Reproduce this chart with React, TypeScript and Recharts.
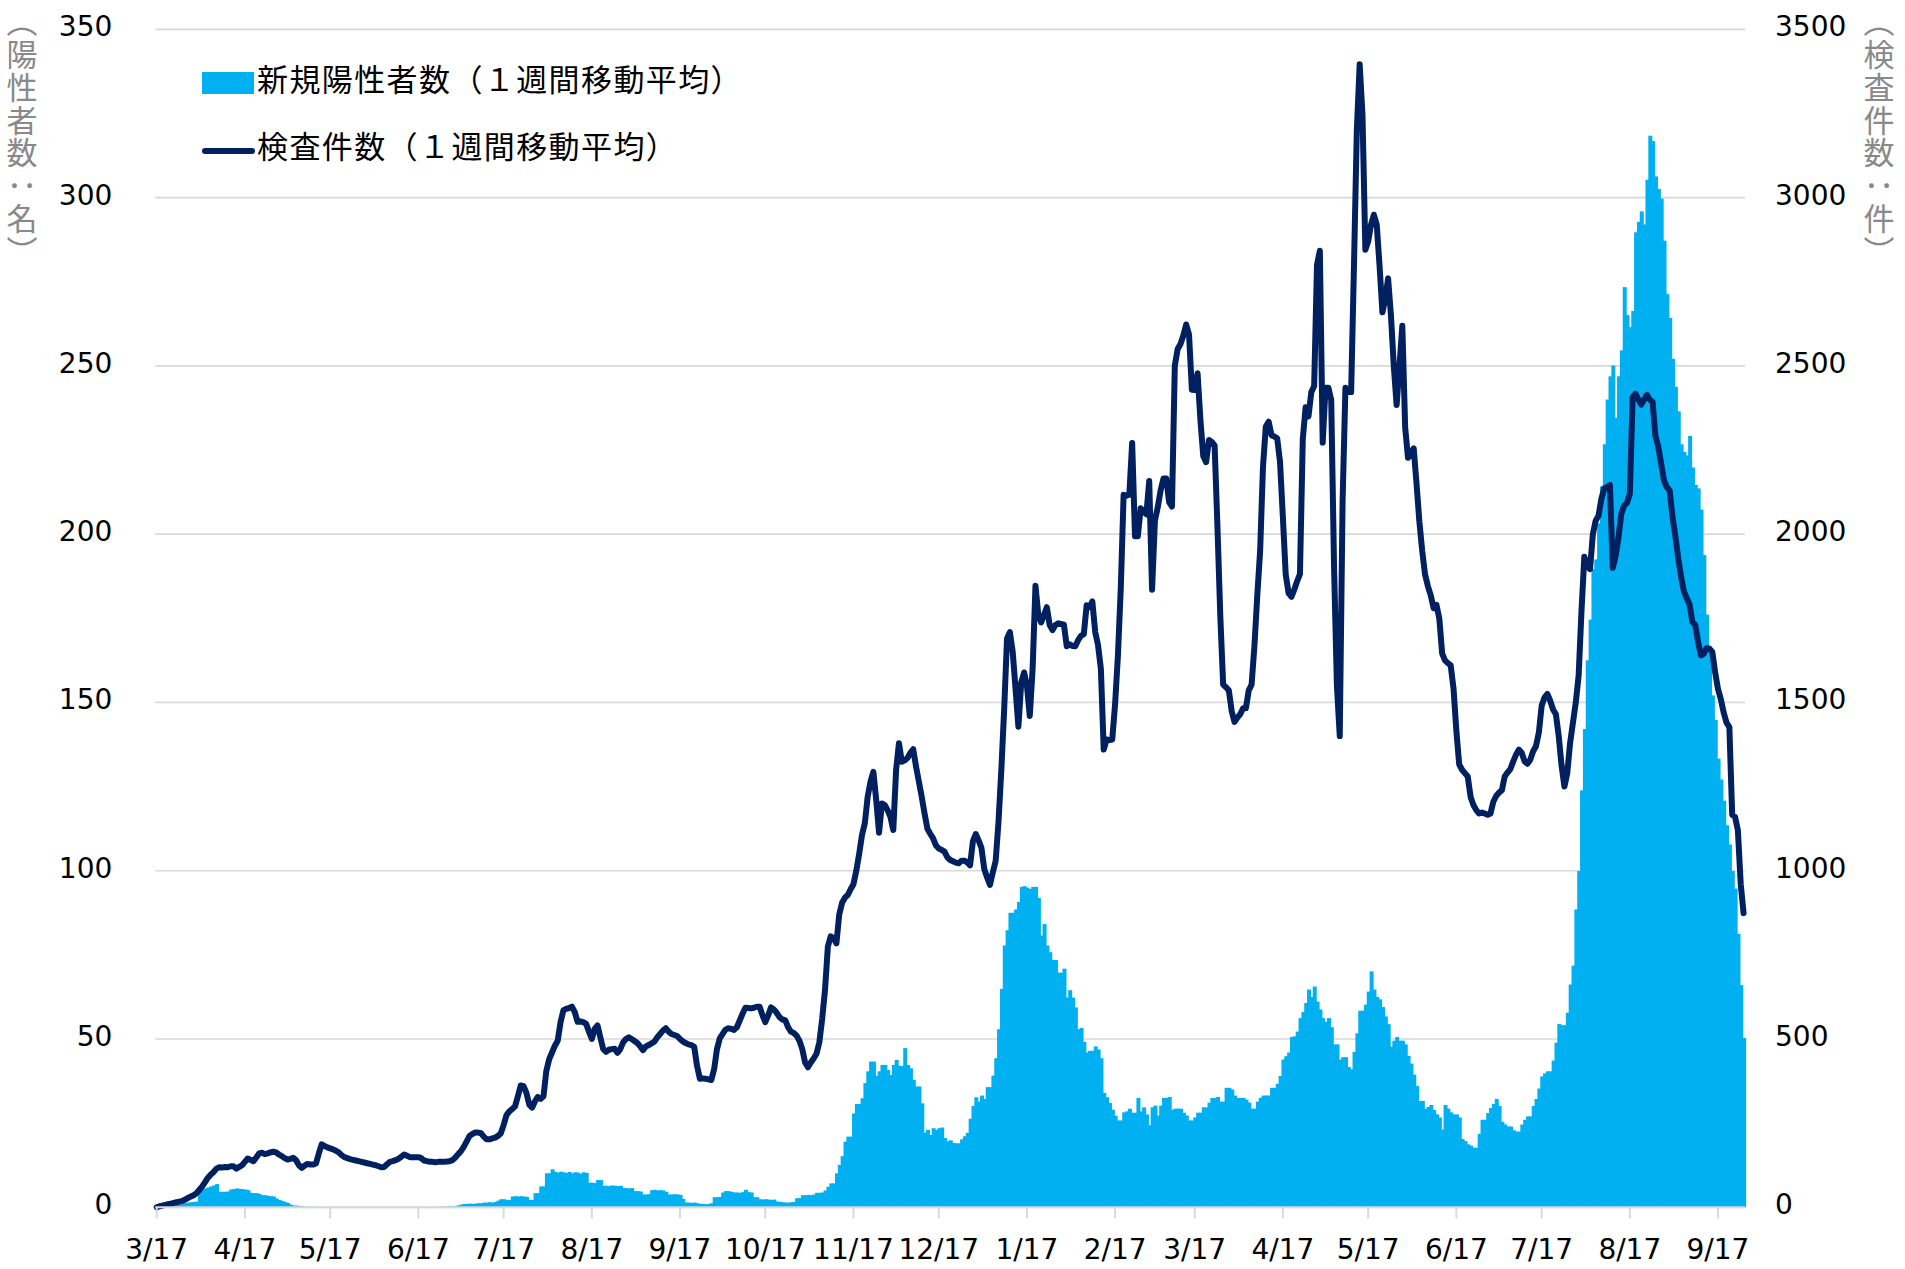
import { Bar, CartesianGrid, ComposedChart, Line, XAxis, YAxis } from "recharts";

// 1週間移動平均, one value per day from 2020-03-17 (day 0) to 2021-09-26 (day 558)
const positives = [
  0.2, 0.3, 0.3, 0.4, 0.5, 0.6, 0.7, 0.7, 0.8, 1.2,
  1.3, 1.4, 1.5, 1.6, 1.7, 4.6, 5.3, 5.6, 5.9, 6.2,
  6.5, 6.9, 4.6, 4.6, 4.6, 4.7, 5.3, 5.4, 5.6, 5.5,
  5.4, 5.3, 5.1, 4.3, 4.2, 4.2, 4.0, 3.6, 3.6, 3.4,
  3.3, 3.2, 2.6, 2.2, 1.9, 1.6, 1.3, 0.8, 0.5, 0.5,
  0.4, 0.3, 0.2, 0.1, 0.1, 0.1, 0.1, 0.1, 0, 0,
  0, 0, 0, 0, 0, 0, 0, 0, 0, 0,
  0, 0, 0, 0, 0, 0, 0, 0, 0, 0,
  0, 0, 0, 0, 0, 0, 0, 0, 0, 0,
  0, 0, 0, 0, 0, 0.1, 0.1, 0.1, 0.1, 0.1,
  0.1, 0.2, 0.2, 0.3, 0.3, 0.4, 0.6, 0.8, 1.0, 1.0,
  1.1, 1.0, 1.1, 1.2, 1.2, 1.4, 1.4, 1.5, 1.4, 1.6,
  2.0, 2.4, 2.4, 2.2, 2.2, 3.2, 3.3, 3.2, 3.3, 3.2,
  3.1, 2.2, 2.2, 4.2, 4.2, 6.2, 6.2, 10.1, 10.1, 11.3,
  10.5, 10.3, 10.6, 10.4, 10.2, 10.5, 10.1, 10.4, 10.3, 10.0,
  10.4, 10.2, 7.3, 7.3, 7.2, 8.1, 8.1, 6.4, 6.4, 6.3,
  6.5, 6.4, 6.3, 6.4, 5.7, 5.7, 5.6, 5.7, 4.8, 4.8,
  4.7, 3.8, 3.8, 3.9, 5.1, 5.2, 5.0, 5.1, 5.0, 4.6,
  3.8, 3.8, 3.9, 3.8, 3.7, 2.5, 1.4, 1.4, 1.3, 1.4,
  1.2, 1.0, 1.0, 0.9, 1.0, 1.2, 3.0, 3.0, 3.1, 4.4,
  4.8, 4.8, 4.6, 4.4, 4.4, 4.3, 4.5, 5.2, 4.5, 4.4,
  3.0, 3.0, 2.4, 2.3, 2.4, 2.3, 2.2, 2.3, 1.7, 1.6,
  1.5, 1.4, 1.4, 1.5, 1.6, 2.7, 2.7, 3.6, 3.6, 3.7,
  3.6, 3.8, 4.3, 4.3, 4.4, 5.0, 6.1, 7.1, 7.1, 10.1,
  12.6, 15.2, 19.5, 21.0, 21.0, 27.9, 30.7, 30.7, 32.4, 36.9,
  40.4, 43.3, 43.3, 39.0, 40.4, 42.3, 42.3, 40.8, 39.3, 42.3,
  43.8, 42.0, 42.0, 47.3, 42.3, 41.3, 37.9, 35.9, 35.9, 30.9,
  22.2, 23.0, 21.5, 23.5, 23.0, 23.5, 23.7, 20.6, 19.6, 19.9,
  19.1, 19.0, 19.0, 20.2, 21.1, 22.1, 26.3, 30.1, 32.7, 31.4,
  33.2, 32.2, 35.7, 35.7, 39.1, 44.3, 52.9, 64.9, 77.8, 82.3,
  87.5, 87.5, 88.5, 90.7, 95.2, 95.4, 95.0, 94.6, 95.2, 95.2,
  91.9, 80.7, 84.2, 77.8, 75.8, 73.5, 73.5, 69.7, 69.7, 70.9,
  62.3, 64.5, 62.3, 59.4, 52.9, 53.3, 49.1, 46.0, 46.5, 46.5,
  47.8, 46.9, 44.3, 34.0, 32.7, 31.0, 29.0, 27.2, 25.8, 25.8,
  28.2, 28.5, 29.3, 28.1, 28.1, 32.5, 28.5, 29.7, 27.6, 24.4,
  29.7, 30.2, 27.3, 30.2, 32.5, 32.5, 32.8, 29.0, 29.3, 29.3,
  29.3, 28.1, 27.3, 25.8, 25.8, 26.7, 28.1, 28.1, 29.7, 29.7,
  31.1, 32.5, 32.5, 32.8, 31.4, 31.4, 35.5, 35.5, 35.0, 33.2,
  32.5, 32.5, 32.5, 32.0, 31.1, 29.3, 29.3, 31.4, 32.5, 33.2,
  33.2, 33.2, 35.5, 35.5, 36.7, 39.0, 43.9, 44.9, 46.0, 50.6,
  50.8, 52.2, 56.2, 58.0, 60.7, 64.7, 62.5, 65.6, 61.1, 58.8,
  56.2, 55.1, 56.2, 53.5, 48.4, 48.4, 43.9, 44.6, 44.6, 41.7,
  41.0, 46.2, 51.7, 58.4, 58.4, 60.2, 64.1, 70.1, 64.7, 62.5,
  61.8, 59.5, 56.7, 54.4, 47.7, 49.5, 50.6, 49.5, 49.5, 48.4,
  45.0, 42.7, 39.4, 36.0, 31.6, 31.6, 29.3, 29.8, 30.4, 28.9,
  27.6, 26.7, 23.1, 30.4, 29.3, 28.2, 27.6, 27.6, 26.7, 20.3,
  19.7, 18.7, 18.3, 17.7, 17.7, 21.8, 26.0, 26.0, 28.0, 29.5,
  30.7, 32.2, 30.1, 25.4, 24.6, 24.0, 24.0, 22.9, 22.5, 22.5,
  24.6, 26.0, 27.0, 27.0, 30.1, 32.2, 35.3, 38.9, 39.8, 40.4,
  40.4, 43.6, 48.9, 54.5, 54.1, 54.1, 57.8, 66.2, 71.8, 88.5,
  99.9, 123.9, 142.1, 162.5, 174.6, 189.6, 192.5, 203.2, 214.2, 226.7,
  240.0, 246.9, 250.1, 234.5, 246.9, 254.6, 273.4, 265.1, 261.5, 266.3,
  289.7, 292.8, 295.9, 292.0, 305.3, 318.4, 316.8, 306.3, 302.6, 299.7,
  287.2, 271.3, 264.2, 252.1, 243.8, 236.5, 226.7, 224.4, 223.4, 229.2,
  219.8, 214.6, 213.6, 207.3, 193.8, 176.1, 164.6, 152.1, 144.8, 133.3,
  127.1, 120.8, 113.5, 107.8, 99.9, 94.7, 81.2, 66.0, 50.3,
];

const tests = [
  0, 3, 5, 7, 9, 11, 13, 15, 17, 19,
  23, 28, 32, 36, 42, 52, 62, 75, 88, 97,
  105, 115, 119, 118, 120, 119, 122, 122, 115, 120,
  125, 135, 145, 141, 137, 148, 160, 162, 158, 160,
  163, 165, 163, 157, 152, 146, 142, 144, 147, 140,
  125, 117, 124, 129, 127, 127, 130, 160, 187, 182,
  178, 175, 172, 168, 163, 155, 149, 146, 143, 141,
  139, 137, 135, 133, 131, 129, 127, 125, 122, 119,
  120, 128, 135, 137, 140, 144, 150, 157, 153, 149,
  149, 149, 149, 146, 139, 137, 135, 135, 134, 135,
  135, 135, 136, 137, 140, 148, 158, 167, 180, 196,
  212, 218, 222, 222, 220, 210, 202, 202, 205, 207,
  212, 220, 245, 274, 285, 292, 300, 330, 362, 360,
  340, 305, 296, 315, 328, 322, 330, 405, 440, 460,
  480, 495, 550, 585, 590, 592, 596, 580, 551, 552,
  550, 545, 522, 500, 530, 540, 505, 470, 462, 468,
  470, 471, 459, 470, 490, 500, 505, 500, 494, 488,
  478, 467, 478, 482, 487, 492, 505, 515, 525, 532,
  522, 515, 512, 509, 500, 493, 488, 484, 482, 477,
  420, 382, 383, 382, 380, 378, 410, 470, 502, 515,
  528, 532, 530, 527, 535, 555, 575, 593, 592, 591,
  593, 596, 596, 571, 550, 570, 594, 588, 578, 565,
  558, 556, 535, 522, 518, 510, 495, 470, 430, 416,
  430, 442, 456, 490, 560, 646, 775, 805, 800, 784,
  870, 905, 920, 928, 945, 960, 1000, 1050, 1106, 1141,
  1220, 1265, 1294, 1210, 1113, 1200, 1195, 1180, 1160, 1121,
  1300, 1379, 1324, 1328, 1335, 1350, 1361, 1310, 1265, 1220,
  1170, 1125, 1110, 1096, 1075, 1066, 1062, 1057, 1040, 1032,
  1028, 1024, 1022, 1030, 1030, 1025, 1016, 1087, 1109, 1090,
  1068, 1005, 980, 958, 995, 1029, 1145, 1300, 1480, 1690,
  1709, 1650, 1540, 1428, 1560, 1589, 1550, 1460, 1600, 1847,
  1760, 1738, 1760, 1783, 1730, 1715, 1730, 1735, 1733, 1731,
  1667, 1673, 1668, 1667, 1685, 1698, 1703, 1789, 1783, 1800,
  1710, 1670, 1600, 1360, 1390, 1388, 1390, 1495, 1640, 1840,
  2117, 2114, 2117, 2271, 1994, 1994, 2077, 2068, 2059, 2158,
  1835, 2040, 2080, 2130, 2165, 2165, 2095, 2082, 2500, 2550,
  2565, 2590, 2623, 2593, 2429, 2428, 2478, 2340, 2232, 2214,
  2280, 2274, 2263, 2020, 1756, 1553, 1545, 1536, 1474, 1442,
  1455, 1465, 1483, 1483, 1536, 1553, 1668, 1818, 1950, 2200,
  2320, 2334, 2294, 2290, 2285, 2214, 2050, 1880, 1825, 1814,
  1835, 1860, 1881, 2283, 2377, 2350, 2422, 2440, 2800, 2842,
  2272, 2435, 2435, 2399, 1900, 1550, 1400, 2100, 2435, 2422,
  2422, 2797, 3200, 3396, 3244, 2845, 2870, 2920, 2949, 2920,
  2797, 2659, 2700, 2760, 2650, 2500, 2384, 2500, 2619, 2317,
  2227, 2240, 2255, 2150, 2037, 1950, 1880, 1845, 1818, 1780,
  1790, 1750, 1646, 1625, 1617, 1610, 1542, 1416, 1316, 1300,
  1290, 1280, 1220, 1195, 1180, 1170, 1173, 1170, 1166, 1170,
  1205, 1222, 1232, 1239, 1280, 1292, 1302, 1325, 1345, 1360,
  1350, 1325, 1318, 1330, 1355, 1370, 1410, 1490, 1515, 1525,
  1505, 1479, 1465, 1400, 1312, 1250, 1290, 1380, 1440, 1500,
  1580, 1771, 1933, 1905, 1896, 2000, 2040, 2055, 2105, 2136,
  2140, 2146, 1900, 1935, 1990, 2060, 2085, 2093, 2120, 2407,
  2417, 2400, 2385, 2400, 2414, 2400, 2393, 2292, 2260, 2210,
  2160, 2140, 2130, 2052, 1995, 1930, 1875, 1830, 1810, 1792,
  1739, 1730, 1680, 1640, 1645, 1662, 1660, 1650, 1590, 1540,
  1510, 1470, 1440, 1427, 1166, 1160, 1120, 960, 874,
];

const tickDays = [0, 31, 61, 92, 122, 153, 184, 214, 245, 275, 306, 337, 365, 396, 426, 457, 487, 518, 549];
const tickLabels = ["3/17", "4/17", "5/17", "6/17", "7/17", "8/17", "9/17", "10/17", "11/17", "12/17", "1/17", "2/17", "3/17", "4/17", "5/17", "6/17", "7/17", "8/17", "9/17"];
const leftTicks = [0, 50, 100, 150, 200, 250, 300, 350];
const rightTicks = [0, 500, 1000, 1500, 2000, 2500, 3000, 3500];

const BLUE = "#00b0f0";
const NAVY = "#002060";
const GRID = "#d9d9d9";
const TITLE_GRAY = "#898989";
const NUM_FONT = "'DejaVu Sans', Verdana, sans-serif";
const JP_FONT = "'Noto Sans CJK JP', 'Noto Sans', sans-serif";

const rows = positives.map((pos, i) => ({ d: i, pos, tests: tests[i] }));

// bars come out 2px wide on a 2.84px band, widen them so the days touch
function DayBar(props: any) {
  const { x, y, width, height } = props;
  if (!height || height <= 0) return null;
  return <rect x={x} y={y} width={width + 1} height={height} fill={BLUE} />;
}

const tickStyle = { fill: "#000", fontSize: 28, fontFamily: NUM_FONT };
const yTickStyle = { ...tickStyle, dy: -3 };

function VerticalTitle({ text, left }: { text: string; left: number }) {
  return (
    <div
      style={{
        position: "absolute",
        left,
        top: 6,
        writingMode: "vertical-rl",
        fontFamily: JP_FONT,
        fontSize: 31,
        lineHeight: 1,
        letterSpacing: 1.8,
        color: TITLE_GRAY,
        whiteSpace: "nowrap",
      }}
    >
      {text}
    </div>
  );
}

function ChartLegend() {
  const label = {
    position: "absolute" as const,
    left: 257,
    fontFamily: JP_FONT,
    fontSize: 31,
    letterSpacing: 1.4,
    lineHeight: 1,
    color: "#000",
    whiteSpace: "nowrap" as const,
  };
  return (
    <>
      <div style={{ position: "absolute", left: 202, top: 72, width: 52, height: 22, background: BLUE }} />
      <div style={{ ...label, top: 62 }}>新規陽性者数（１週間移動平均）</div>
      <div style={{ position: "absolute", left: 202, top: 147.5, width: 53, height: 6, borderRadius: 3, background: NAVY }} />
      <div style={{ ...label, top: 129 }}>検査件数（１週間移動平均）</div>
    </>
  );
}

export default function App() {
  return (
    <div style={{ position: "absolute", left: 0, top: 0, width: 1905, height: 1269, background: "#fff" }}>
      <ComposedChart
        width={1905}
        height={1269}
        data={rows}
        margin={{ top: 29.3, right: 40, bottom: 1.7, left: 55.3 }}
        barCategoryGap={0}
        barGap={0}
      >
        <CartesianGrid yAxisId="left" vertical={false} stroke={GRID} strokeWidth={1.7} />
        <XAxis
          dataKey="d"
          type="category"
          ticks={tickDays}
          interval={0}
          tickFormatter={(v: number) => tickLabels[tickDays.indexOf(v)] ?? ""}
          height={60}
          axisLine={{ stroke: GRID, strokeWidth: 2 }}
          tickLine={{ stroke: GRID, strokeWidth: 2 }}
          tickSize={11}
          tickMargin={21}
          tick={tickStyle}
        />
        <YAxis
          yAxisId="left"
          domain={[0, 350]}
          ticks={leftTicks}
          width={100}
          axisLine={false}
          tickLine={false}
          tickSize={0}
          tickMargin={43}
          tick={yTickStyle}
        />
        <YAxis
          yAxisId="right"
          orientation="right"
          domain={[0, 3500]}
          ticks={rightTicks}
          width={120}
          axisLine={false}
          tickLine={false}
          tickSize={0}
          tickMargin={30}
          tick={yTickStyle}
        />
        <Bar yAxisId="left" dataKey="pos" fill={BLUE} shape={DayBar} isAnimationActive={false} />
        <Line
          yAxisId="right"
          dataKey="tests"
          type="linear"
          stroke={NAVY}
          strokeWidth={6}
          strokeLinejoin="round"
          strokeLinecap="round"
          dot={false}
          activeDot={false}
          isAnimationActive={false}
        />
      </ComposedChart>
      <ChartLegend />
      <VerticalTitle text="（陽性者数：名）" left={6.5} />
      <VerticalTitle text="（検査件数：件）" left={1863.5} />
    </div>
  );
}
